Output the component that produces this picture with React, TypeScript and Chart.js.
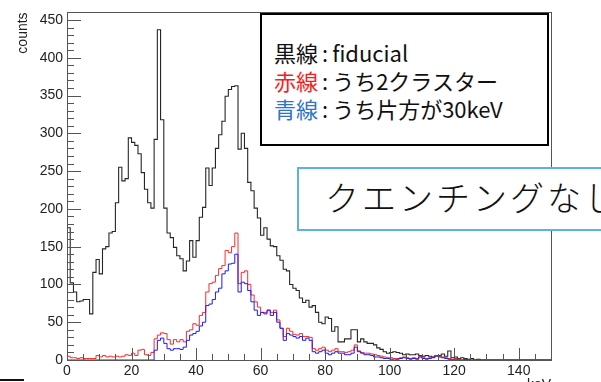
import React, { useEffect, useRef } from "react";
import { Chart, registerables } from "chart.js";

Chart.register(...registerables);

// Histogram binning (keV) and axis ranges
const BIN_WIDTH = 1;
const X_MIN = 0;
const X_MAX = 150;
const Y_MAX = 460;
const X_MAJOR = 20;
const X_MINOR = 5;
const Y_MAJOR = 50;
const Y_MINOR = 10;
const X_TICKS = [0, 20, 40, 60, 80, 100, 120, 140];
const Y_TICKS = [0, 50, 100, 150, 200, 250, 300, 350, 400, 450];

// Black: fiducial events, counts per 1 keV bin from 0 keV
const fiducial = [
  255, 175, 102, 90, 77, 78, 80, 80, 61, 116,
  133, 114, 147, 150, 168, 170, 208, 255, 237, 240,
  294, 288, 284, 273, 248, 226, 208, 201, 292, 437,
  318, 201, 168, 162, 149, 138, 134, 118, 131, 158,
  136, 158, 189, 202, 254, 231, 254, 280, 298, 316,
  349, 358, 362, 363, 279, 300, 280, 235, 224, 201,
  188, 165, 175, 160, 151, 150, 138, 132, 120, 118,
  100, 95, 92, 82, 76, 79, 70, 72, 63, 50,
  48, 57, 55, 38, 44, 24, 24, 28, 28, 40,
  40, 24, 28, 24, 22, 22, 20, 16, 14, 11,
  9, 10, 11, 10, 9, 7, 8, 7, 7, 8,
  6, 5, 6, 5, 4, 6, 6, 8, 5, 12,
  3, 4, 2, 3, 2, 1, 2, 0, 1, 0,
  0, 0, 0, 0, 0, 0, 0, 0, 0, 0,
  0, 0, 0, 0, 0, 0, 0, 0, 0, 0,
];

// Red: of which, two-cluster events
const twoCluster = [
  6, 5, 3, 3, 2, 3, 2, 2, 2, 2,
  6, 4, 6, 4, 5, 4, 5, 4, 5, 7,
  6, 9, 6, 13, 14, 7, 6, 10, 28, 33,
  36, 35, 27, 21, 27, 24, 27, 24, 38, 40,
  48, 46, 59, 63, 90, 101, 103, 112, 121, 125,
  145, 142, 150, 168, 101, 116, 118, 100, 86, 77,
  70, 63, 63, 66, 63, 66, 53, 42, 31, 42,
  38, 34, 33, 35, 31, 31, 30, 15, 13, 15,
  17, 13, 11, 13, 15, 11, 11, 10, 11, 13,
  20, 12, 10, 9, 9, 8, 7, 6, 5, 4,
  3, 3, 2, 2, 3, 4, 3, 2, 3, 2,
  5, 3, 2, 3, 4, 6, 5, 4, 3, 2,
  1, 2, 1, 0, 1, 0, 0, 0, 0, 0,
  0, 0, 0, 0, 0, 0, 0, 0, 0, 0,
  0, 0, 0, 0, 0, 0, 0, 0, 0, 0,
];

// Blue: of which, one cluster at 30 keV
const one30keV = [
  0, 0, 0, 0, 0, 0, 0, 0, 0, 0,
  0, 0, 0, 0, 0, 0, 0, 0, 0, 0,
  0, 0, 0, 0, 0, 0, 0, 0, 13, 26,
  29, 22, 15, 13, 15, 15, 14, 17, 26, 33,
  35, 38, 45, 50, 72, 74, 80, 90, 95, 114,
  118, 127, 128, 140, 90, 103, 101, 92, 77, 66,
  59, 63, 61, 66, 59, 63, 50, 42, 26, 35,
  33, 31, 29, 31, 26, 29, 26, 11, 9, 11,
  13, 9, 7, 9, 11, 9, 9, 7, 7, 9,
  17, 11, 9, 7, 7, 6, 4, 4, 3, 2,
  2, 1, 0, 1, 2, 3, 2, 1, 2, 1,
  4, 2, 1, 2, 3, 5, 4, 3, 2, 1,
  0, 1, 0, 0, 1, 0, 0, 0, 0, 0,
  0, 0, 0, 0, 0, 0, 0, 0, 0, 0,
  0, 0, 0, 0, 0, 0, 0, 0, 0, 0,
];

// Turn bin contents into step-outline points (left edge of each bin + final right edge)
function toSteps(counts: number[]) {
  const pts = counts.map((c, i) => ({ x: X_MIN + i * BIN_WIDTH, y: c }));
  pts.push({ x: X_MIN + counts.length * BIN_WIDTH, y: counts[counts.length - 1] });
  return pts;
}

// ROOT-style frame with inward major/minor tick marks
const frameTicks = {
  id: "frameTicks",
  afterDatasetsDraw(chart: any) {
    const { ctx, chartArea: a, scales } = chart;
    const x = scales.x;
    const y = scales.y;
    ctx.save();
    ctx.strokeStyle = "#555";
    ctx.lineWidth = 1;
    ctx.beginPath();
    for (let v = X_MIN; v <= X_MAX; v += X_MINOR) {
      const px = Math.round(x.getPixelForValue(v)) + 0.5;
      const len = v % X_MAJOR === 0 ? 12 : 6;
      ctx.moveTo(px, a.bottom);
      ctx.lineTo(px, a.bottom - len);
    }
    for (let v = 0; v <= Y_MAX; v += Y_MINOR) {
      const py = Math.round(y.getPixelForValue(v)) + 0.5;
      const len = v % Y_MAJOR === 0 ? 14 : 7;
      ctx.moveTo(a.left, py);
      ctx.lineTo(a.left + len, py);
    }
    ctx.stroke();
    ctx.strokeRect(Math.round(a.left) + 0.5, Math.round(a.top) + 0.5, Math.round(a.width), Math.round(a.height));
    ctx.restore();
  },
};

export default function App() {
  const canvasRef = useRef<HTMLCanvasElement | null>(null);

  useEffect(() => {
    const canvas = canvasRef.current;
    if (!canvas) return;
    const tickFont = { family: "'Liberation Sans', Arial, sans-serif", size: 14 };
    const chart = new Chart(canvas, {
      type: "line",
      data: {
        datasets: [
          {
            label: "fiducial",
            data: toSteps(fiducial),
            borderColor: "#262626",
            borderWidth: 1.1,
            stepped: "after",
            pointRadius: 0,
            fill: false,
            order: 2,
          },
          {
            label: "2クラスター",
            data: toSteps(twoCluster),
            borderColor: "#ff2a2a",
            borderWidth: 1,
            stepped: "after",
            pointRadius: 0,
            fill: false,
            order: 1,
          },
          {
            label: "片方が30keV",
            data: toSteps(one30keV),
            borderColor: "#1a1aff",
            borderWidth: 1,
            stepped: "after",
            pointRadius: 0,
            fill: false,
            order: 0,
          },
        ],
      },
      options: {
        responsive: false,
        animation: false,
        layout: { padding: { left: 0, top: 11, right: 50, bottom: 0 } },
        plugins: { legend: { display: false }, tooltip: { enabled: false } },
        scales: {
          x: {
            type: "linear",
            min: X_MIN,
            max: X_MAX,
            grid: { display: false, drawTicks: false },
            border: { display: false },
            afterBuildTicks: (s: any) => {
              s.ticks = X_TICKS.map((v) => ({ value: v }));
            },
            afterFit: (s: any) => {
              s.height = 22;
            },
            ticks: { font: tickFont, color: "#222", padding: 3, maxRotation: 0, autoSkip: false },
            title: {
              display: true,
              text: "keV",
              align: "end",
              font: { family: "'Liberation Sans', Arial, sans-serif", size: 14 },
              color: "#222",
              padding: { top: 0, bottom: -12 },
            },
          },
          y: {
            type: "linear",
            min: 0,
            max: Y_MAX,
            grid: { display: false, drawTicks: false },
            border: { display: false },
            afterBuildTicks: (s: any) => {
              s.ticks = Y_TICKS.map((v) => ({ value: v }));
            },
            ticks: { font: tickFont, color: "#222", padding: 4, autoSkip: false },
            afterFit: (s: any) => {
              s.width = 67;
            },
            title: {
              display: true,
              text: "counts",
              align: "end",
              font: { family: "'Liberation Sans', Arial, sans-serif", size: 14 },
              color: "#222",
              padding: { top: 15, bottom: 0 },
            },
          },
        },
      },
      plugins: [frameTicks],
    });
    return () => chart.destroy();
  }, []);

  const jp = "'Noto Sans CJK JP', 'Noto Sans', sans-serif";

  return (
    <div
      style={{
        position: "fixed",
        left: 0,
        top: 0,
        width: 601,
        height: 382,
        overflow: "hidden",
        background: "#fff",
      }}
    >
      <canvas ref={canvasRef} width={601} height={382} style={{ position: "absolute", left: 0, top: 0 }} />

      {/* Legend box */}
      <div
        style={{
          position: "absolute",
          left: 260,
          top: 13,
          width: 289,
          height: 133,
          boxSizing: "border-box",
          border: "2px solid #000",
          background: "#fff",
          fontFamily: jp,
          fontSize: 22,
          lineHeight: "28px",
          paddingTop: 23,
          paddingLeft: 12,
          color: "#111",
          whiteSpace: "nowrap",
        }}
      >
        <div>
          <span>黒線</span>
          <span style={{ margin: "0 4px" }}>:</span>
          <span>fiducial</span>
        </div>
        <div>
          <span style={{ color: "#ff1a1a" }}>赤線</span>
          <span style={{ margin: "0 4px" }}>:</span>
          <span>うち2クラスター</span>
        </div>
        <div>
          <span style={{ color: "#2f74c6" }}>青線</span>
          <span style={{ margin: "0 4px" }}>:</span>
          <span>うち片方が30keV</span>
        </div>
      </div>

      {/* Callout */}
      <div
        style={{
          position: "absolute",
          left: 297,
          top: 167,
          width: 330,
          height: 64,
          boxSizing: "border-box",
          border: "2px solid #5cb2e4",
          background: "#fff",
          fontFamily: jp,
          fontSize: 34,
          fontWeight: 300,
          letterSpacing: 3,
          lineHeight: "56px",
          paddingLeft: 26,
          color: "#111",
          whiteSpace: "nowrap",
        }}
      >
        クエンチングなし
      </div>

      {/* short rule at the lower-left edge */}
      <div style={{ position: "absolute", left: 0, top: 379, width: 24, height: 2, background: "#111" }} />
    </div>
  );
}
